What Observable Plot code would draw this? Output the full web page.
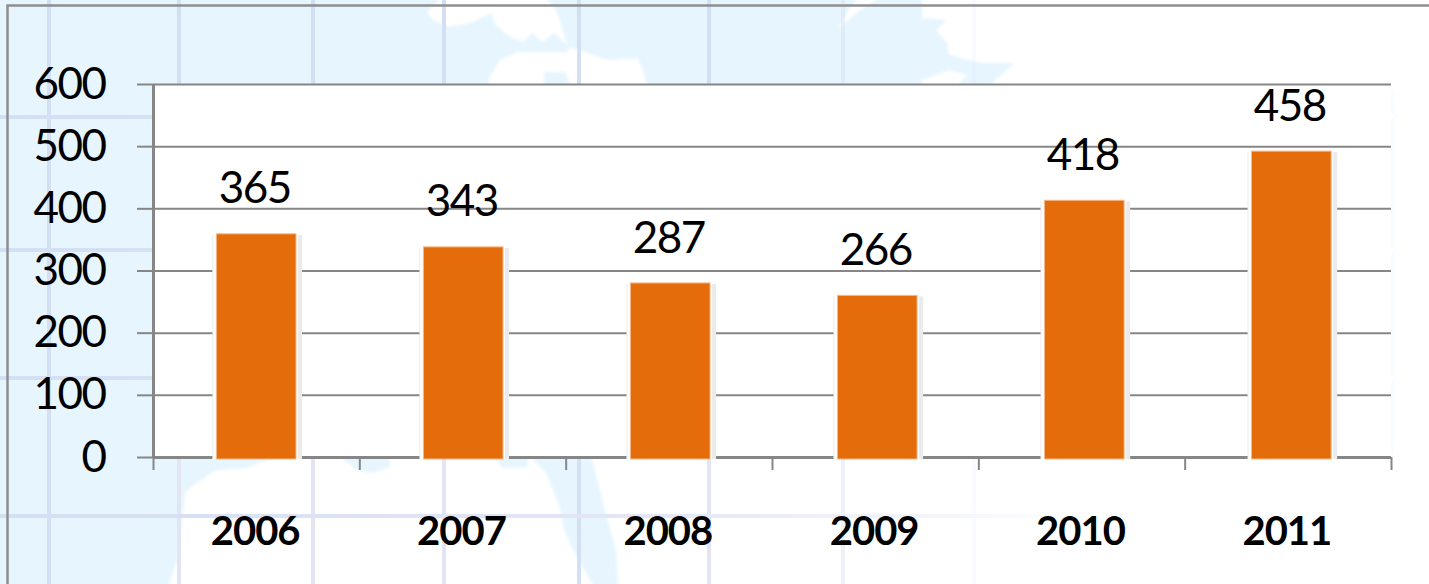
<!DOCTYPE html>
<html>
<head>
<meta charset="utf-8">
<script src="https://cdn.jsdelivr.net/npm/d3@7"></script>
<script src="https://cdn.jsdelivr.net/npm/@observablehq/plot@0.6"></script>
<style>
  html, body { margin: 0; padding: 0; width: 1429px; height: 584px; overflow: hidden; background: #fff; }
  #chart svg { display: block; }
  #chart svg text { letter-spacing: -1.5px; }
  #chart svg g[font-weight="bold"] text { letter-spacing: -1px; }
</style>
</head>
<body>
<div id="chart"></div>
<script>
// Chart values
const years = ["2006", "2007", "2008", "2009", "2010", "2011"];
const barHeights = [359, 338, 280, 260, 413, 492];
const printedLabels = ["365", "343", "287", "266", "418", "458"];
const yTicks = [0, 100, 200, 300, 400, 500, 600];
const edgeTicks = [0, 1, 2, 3, 4, 5, 6];
const centerTicks = [0.5, 1.5, 2.5, 3.5, 4.5, 5.5];

const table = years.map((year, i) => ({year, i, value: barHeights[i], label: printedLabels[i]}));

// Decorative backdrop (the faded world map behind the chart), not data
const backdrop = `<svg xmlns="http://www.w3.org/2000/svg" width="1429" height="584">
<defs>
<linearGradient id="h" x1="0" x2="1" y1="0" y2="0"><stop offset="0" stop-color="#d3dff3"/><stop offset=".45" stop-color="#e4e6f6"/><stop offset=".68" stop-color="#f6f6fd"/><stop offset=".75" stop-color="#fff"/></linearGradient>
<filter id="b"><feGaussianBlur stdDeviation="1.6"/></filter>
</defs>
<rect width="1429" height="584" fill="#e6f5fe"/>
<g fill="#fff" filter="url(#b)">
<path d="M427 13L433 20L449 27L471 23L491 13L496 25L507 35L523 42L532 33L543 42L554 33L567 45L561 23L556 10L543 -5L445 -5L431 7Z"/>
<path d="M489 90L489 78L500 60L518 52L567 52L570 47L608 60L637 58L643 70L648 90L572 90L565 72L545 72L543 90Z"/>
<path d="M837 30L850 8L860 -5L885 -5L860 10Z"/>
<path d="M922 -5L922 18L947 20L936 30L947 43L949 55L980 63L1014 63L985 90L1440 90L1440 -5Z"/>
<path d="M922 80L949 70L967 75L954 90L922 90Z"/>
<rect x="1392" y="80" width="50" height="400"/>
<path d="M167 590L178 557L185 493L196 483L216 470L247 468L279 455L337 455L357 470L372 473L390 467L390 455L495 455L502 468L528 467L528 455L546 473L560 507L564 530L573 550L596 590Z"/>
<path d="M591 455L604 507L616 550L618 590L1440 590L1440 455Z"/>
</g>
<g stroke-width="4" fill="none">
<path d="M49 0V584M179 0V458M313 0V458M444 0V458M579 0V458M709 0V458" stroke="#d3dff3"/>
<path d="M179 458V584M313 458V584M444 458V584M709 458V584" stroke="#e3e5f5"/>
<path d="M579 458V584" stroke="#d3dff3"/>
<path d="M843 0V584" stroke="#d3dff3" opacity=".4"/>
<path d="M974 0V584" stroke="#d3dff3" opacity=".12"/>
</g>
<g fill="url(#h)">
<rect x="0" y="115" width="1429" height="4"/>
<rect x="0" y="248" width="1429" height="4"/>
<rect x="0" y="376" width="1429" height="4"/>
<rect x="0" y="514" width="1429" height="4"/>
</g>
<path d="M7.5 584V5.5H1429" fill="none" stroke="#8f8f8f" stroke-width="2.5"/>
</svg>`;
document.body.style.backgroundImage = `url("data:image/svg+xml,${encodeURIComponent(backdrop)}")`;
document.body.style.backgroundRepeat = "no-repeat";

const gray = "#868686";
const barCenter = d => d.i * 1.0034 + 0.5;
const barX1 = d => barCenter(d) - 0.193;
const barX2 = d => barCenter(d) + 0.193;

const chart = Plot.plot({
  width: 1429,
  height: 584,
  marginLeft: 153,
  marginRight: 38,
  marginTop: 84,
  marginBottom: 127,
  style: {background: "transparent", fontFamily: "Lato", color: "#000"},
  x: {domain: [0, 6], label: null},
  y: {domain: [0, 600], label: null},
  marks: [
    Plot.frame({fill: "#fff", stroke: "none"}),
    Plot.ruleY(yTicks.slice(1), {stroke: gray, strokeWidth: 2}),
    Plot.axisY({
      ticks: yTicks, tickSize: 16, tickPadding: 32, fontSize: 44, label: null,
      stroke: gray, strokeWidth: 2, strokeOpacity: 1, fill: "#000", fillOpacity: 1
    }),
    Plot.axisX({
      ticks: edgeTicks, tickSize: 13, tickFormat: () => "", label: null,
      stroke: gray, strokeWidth: 2, strokeOpacity: 1
    }),
    Plot.axisX({
      ticks: centerTicks, tickSize: 0, tickPadding: 59, label: null,
      tickFormat: v => years[Math.floor(v)],
      fontSize: 40, fontWeight: "bold", fill: "#000", fillOpacity: 1,
      textAnchor: "middle", dx: -1.5
    }),
    Plot.ruleX([0], {stroke: gray, strokeWidth: 3}),
    Plot.ruleY([0], {stroke: gray, strokeWidth: 3}),
    // soft shadow and halo round each bar
    Plot.rectY(table, {x1: barX1, x2: barX2, y1: 0, y2: "value", fill: "#ebebeb", insetLeft: -4, insetRight: -6, insetTop: 1, insetBottom: -2}),
    Plot.rectY(table, {x1: barX1, x2: barX2, y1: 0, y2: "value", fill: "#fff", insetLeft: -3, insetRight: -2, insetTop: -1, insetBottom: -2}),
    Plot.rectY(table, {x1: barX1, x2: barX2, y1: 0, y2: "value", fill: "#e46c0a", stroke: "#f7b98a", strokeWidth: 1, insetBottom: -2}),
    Plot.text(table, {
      x: barCenter, y: "value", text: "label", dy: -45, dx: -2,
      fontSize: 44, fill: "#000", textAnchor: "middle", lineAnchor: "middle"
    })
  ]
});
document.getElementById("chart").appendChild(chart);
</script>
</body>
</html>
